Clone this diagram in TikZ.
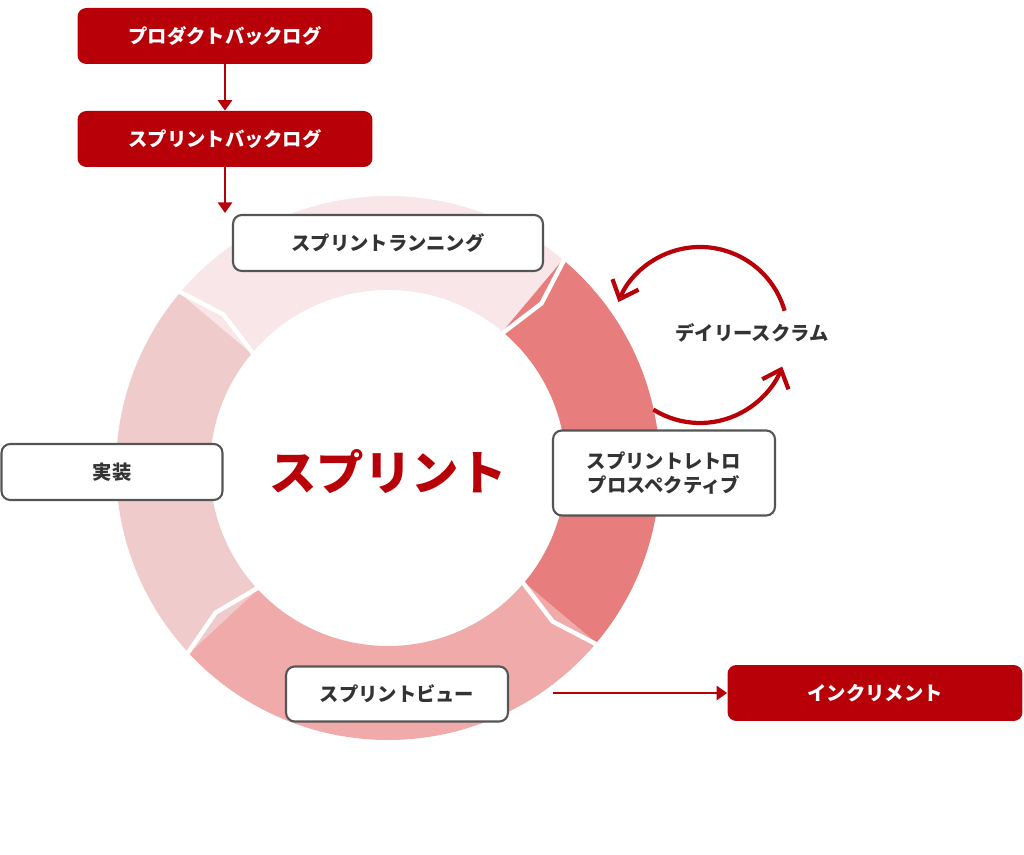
\documentclass[tikz,border=0pt]{standalone}
\usepackage{fontspec}
\setmainfont{Noto Sans CJK JP}
\usetikzlibrary{arrows.meta,positioning}
\definecolor{sred}{HTML}{B80009}
\definecolor{segA}{HTML}{F8E6E8}
\definecolor{segB}{HTML}{E87D7D}
\definecolor{segC}{HTML}{F0AAAA}
\definecolor{segD}{HTML}{F0CBCC}
\definecolor{bordergray}{HTML}{555555}
\tikzset{
  redbox/.style={fill=sred,rounded corners=5pt,text=white,font=\bfseries\fontsize{11}{14}\selectfont,minimum width=5.9cm,minimum height=1.12cm},
  whitebox/.style={fill=white,draw=bordergray,line width=1.2pt,rounded corners=5pt,text=black!80,font=\bfseries\fontsize{11}{14}\selectfont,align=center},
  flow/.style={sred,line width=1.6pt,-{Triangle[length=6pt,width=8pt]}}
}
\begin{document}
\begin{tikzpicture}[x=0.02cm,y=0.02cm]
\useasboundingbox (0,0) rectangle (1024,855);
% ring
\begin{scope}[shift={(388,387)}]
  \foreach \a/\b/\c in {50/140/segA,140/223/segD,223/320/segC,320/410/segB}
    \fill[\c] (\a:272) arc[start angle=\a,end angle=\b,radius=272] -- (\b:178) arc[start angle=\b,end angle=\a,radius=178] -- cycle;
  \foreach \a in {50,140,223,320}
    \draw[white,line width=2.5pt] (\a:172) -- (\a-3:225) -- (\a:278);
\end{scope}
\node[text=sred,font=\bfseries\fontsize{27}{30}\selectfont] (sprint) at (388,383) {スプリント};
% boxes
\node[redbox] (pb) at (225,819) {プロダクトバックログ};
\node[redbox] (sb) at (225,716) {スプリントバックログ};
\node[redbox] (inc) at (875,162) {インクリメント};
\node[whitebox,minimum width=6.2cm,minimum height=1.12cm] (plan) at (388,612) {スプリントランニング};
\node[whitebox,minimum width=4.42cm,minimum height=1.12cm] (impl) at (112,383) {実装};
\node[whitebox,minimum width=4.44cm,minimum height=1.7cm] (retro) at (664,382) {スプリントレトロ\\プロスペクティブ};
\node[whitebox,minimum width=4.44cm,minimum height=1.1cm] (review) at (397,161) {スプリントビュー};
\coordinate (planin) at (225,642);
\coordinate (incout) at (553,162);
% connectors
\draw[flow] (pb) -- (sb);
\draw[flow] (sb) -- (planin);
\draw[flow] (incout) -- (inc);
% daily scrum
\begin{scope}[shift={(700,520)}]
  \draw[sred,line width=2.4pt,-{Straight Barb[length=9pt,width=16pt]}] (16:88) arc[start angle=16,end angle=158,radius=88];
  \draw[sred,line width=2.4pt,-{Straight Barb[length=9pt,width=16pt]}] (238:88) arc[start angle=238,end angle=339,radius=88];
\end{scope}
\node[font=\bfseries\fontsize{11}{14}\selectfont,text=black!80] (daily) at (752,522) {デイリースクラム};
\end{tikzpicture}
\end{document}
